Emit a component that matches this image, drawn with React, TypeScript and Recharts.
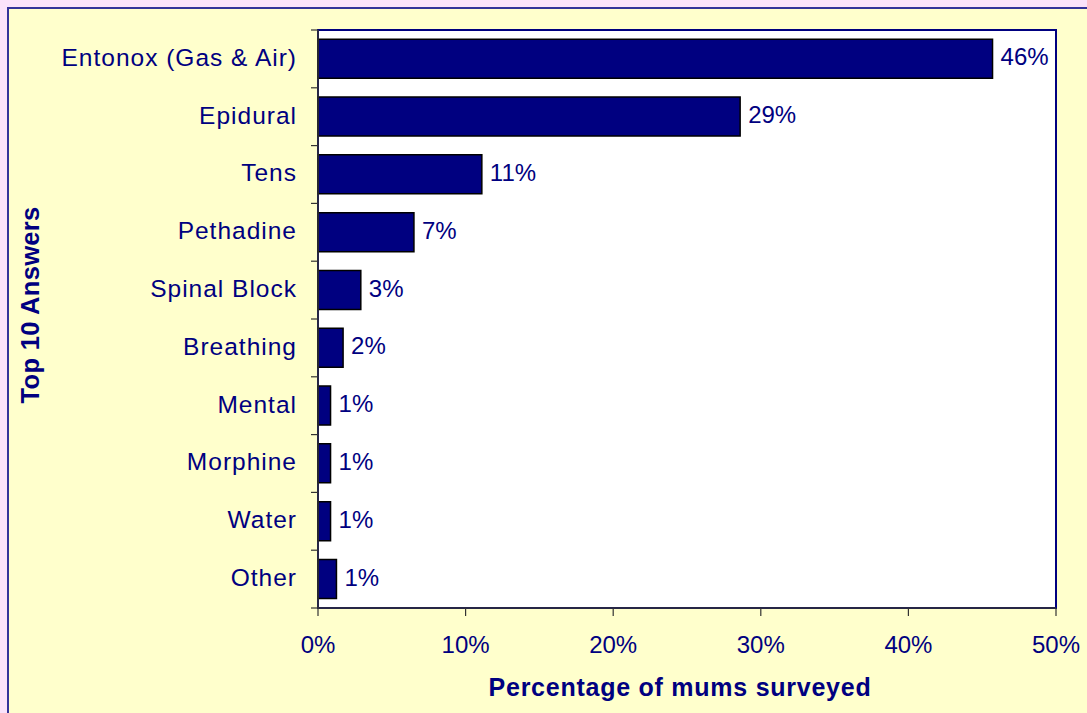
import React from 'react';
import { BarChart, Bar, XAxis, YAxis, CartesianGrid, LabelList, ReferenceArea } from 'recharts';

const categories = ['Entonox (Gas & Air)', 'Epidural', 'Tens', 'Pethadine', 'Spinal Block', 'Breathing', 'Mental', 'Morphine', 'Water', 'Other'];
const values = [45.7, 28.6, 11.1, 6.5, 2.9, 1.7, 0.85, 0.85, 0.85, 1.25];
const valueLabels = ['46%', '29%', '11%', '7%', '3%', '2%', '1%', '1%', '1%', '1%'];
const xTicks = [0, 10, 20, 30, 40, 50];

const data = categories.map((name, i) => ({ name, value: values[i], label: valueLabels[i] }));

const W = 1087;
const H = 713;
const M_TOP = 30;
const M_RIGHT = 31;
const Y_W = 318;
const X_H = 105;
const PLOT_H = H - M_TOP - X_H;
const BAND = PLOT_H / categories.length;
const NAVY = '#000080';
const FONT = '"Liberation Sans", Arial, sans-serif';
const Y_TICK_SIZE = 7;
const Y_TICK_MARGIN = 14;

const YTick = (props: any) => {
  const { x, y, payload, index } = props;
  const lx1 = x + Y_TICK_MARGIN;
  const lx2 = x + Y_TICK_MARGIN + Y_TICK_SIZE;
  return (
    <g>
      <line x1={lx1} x2={lx2} y1={y - BAND / 2} y2={y - BAND / 2} stroke="#333" strokeWidth={1.2} />
      {index === categories.length - 1 && (
        <line x1={lx1} x2={lx2} y1={y + BAND / 2} y2={y + BAND / 2} stroke="#333" strokeWidth={1.2} />
      )}
      <text x={x} y={y} dy="0.28em" textAnchor="end" fill={NAVY} fontSize={24.5} fontFamily={FONT} letterSpacing={1}>
        {payload.value}
      </text>
    </g>
  );
};

const DataLabel = (props: any) => {
  const { x, y, width, height, value } = props;
  return (
    <text x={x + width + 8} y={y + height / 2} dy="0.28em" textAnchor="start" fill={NAVY} fontSize={24} fontFamily={FONT}>
      {value}
    </text>
  );
};

const YTitle = (props: any) => {
  const vb = props.viewBox || {};
  const cy = (vb.y ?? M_TOP) + (vb.height ?? PLOT_H) / 2 - 14;
  const cx = 39;
  return (
    <text x={cx} y={cy} transform={`rotate(-90 ${cx} ${cy})`} textAnchor="middle" fill={NAVY} fontSize={25.5} fontWeight="bold" fontFamily={FONT} letterSpacing={0.3}>
      Top 10 Answers
    </text>
  );
};

const XTitle = (props: any) => {
  const vb = props.viewBox || {};
  const cx = (vb.x ?? Y_W) + (vb.width ?? 738) / 2 - 7;
  return (
    <text x={cx} y={696} textAnchor="middle" fill={NAVY} fontSize={25} fontWeight="bold" fontFamily={FONT} letterSpacing={0.75}>
      Percentage of mums surveyed
    </text>
  );
};

export default function App() {
  return (
    <div style={{ position: 'absolute', left: 0, top: 0, width: W, height: H, background: '#FAE3FA', overflow: 'hidden' }}>
      <div
        style={{
          position: 'absolute',
          left: 7,
          top: 7,
          width: W + 20,
          height: H + 20,
          background: '#FFFFCC',
          border: '2px solid #333399',
          boxSizing: 'border-box',
        }}
      />
      <div style={{ position: 'absolute', left: 0, top: 0 }}>
        <BarChart
          width={W}
          height={H}
          data={data}
          layout="vertical"
          margin={{ top: M_TOP, right: M_RIGHT, left: 0, bottom: 0 }}
          barCategoryGap="16%"
        >
          <CartesianGrid horizontal={false} vertical={false} fill="#FFFFFF" />
          <ReferenceArea x1={0} x2={50} fill="none" stroke={NAVY} strokeWidth={2} ifOverflow="visible" />
          <XAxis
            type="number"
            domain={[0, 50]}
            ticks={xTicks}
            tickFormatter={(v: number) => `${v}%`}
            height={X_H}
            tickSize={8}
            tickMargin={20}
            stroke="#333"
            axisLine={{ stroke: '#333', strokeWidth: 1.5 }}
            tickLine={{ stroke: '#333', strokeWidth: 1.2 }}
            tick={{ fill: NAVY, fontSize: 24, fontFamily: FONT }}
            label={<XTitle />}
            interval={0}
          />
          <YAxis
            type="category"
            dataKey="name"
            width={Y_W}
            tickSize={Y_TICK_SIZE}
            tickMargin={Y_TICK_MARGIN}
            tickLine={false}
            axisLine={{ stroke: '#333', strokeWidth: 1.5 }}
            tick={<YTick />}
            interval={0}
            label={<YTitle />}
          />
          <Bar dataKey="value" fill={NAVY} stroke="#000000" strokeWidth={1.5} isAnimationActive={false}>
            <LabelList dataKey="label" content={<DataLabel />} />
          </Bar>
        </BarChart>
      </div>
    </div>
  );
}
